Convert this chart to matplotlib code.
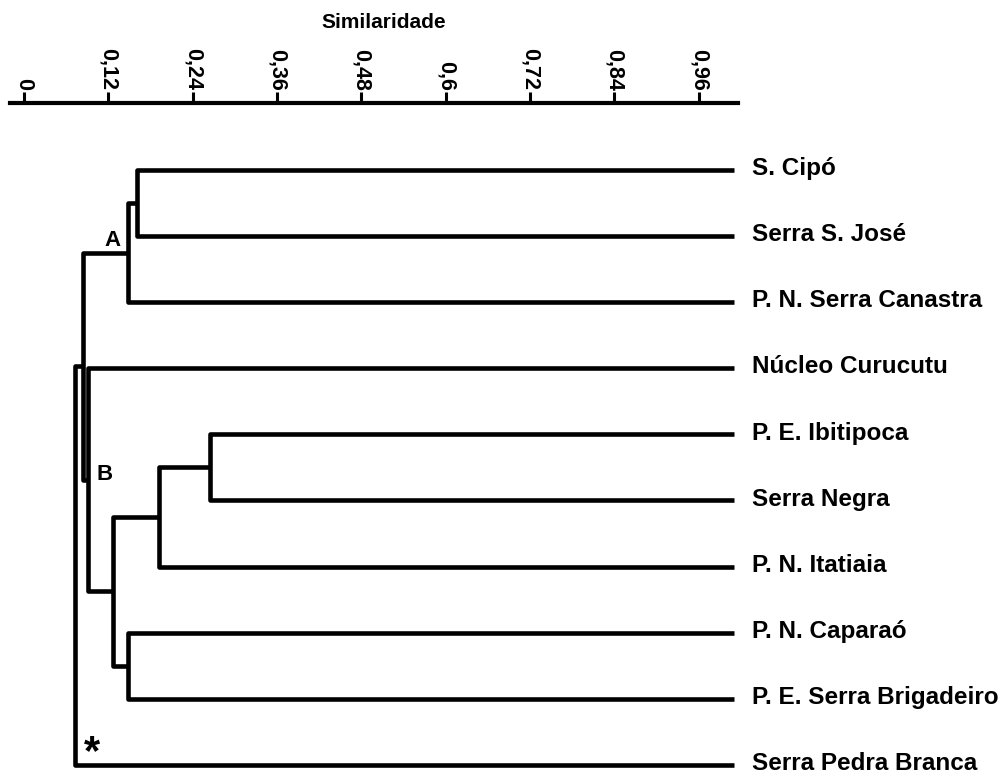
import matplotlib
matplotlib.use("Agg")
import matplotlib.pyplot as plt

plt.rcParams['font.family'] = ['Liberation Sans', 'DejaVu Sans']

# === Data ===
leaves = ["S. Cipó", "Serra S. José", "P. N. Serra Canastra", "Núcleo Curucutu",
          "P. E. Ibitipoca", "Serra Negra", "P. N. Itatiaia", "P. N. Caparaó",
          "P. E. Serra Brigadeiro", "Serra Pedra Branca"]
# merges: (child a, child b, similarity) -> new cluster id = len(leaves) + row
merge_a = [0, 10, 4, 12, 7, 13, 3, 11, 17]
merge_b = [1, 2, 5, 6, 8, 14, 15, 16, 9]
merge_sim = [0.161, 0.1475, 0.2646, 0.192, 0.148, 0.127, 0.0915, 0.0835, 0.0725]
leaf_sim = 1.01
ticks = [0, 0.12, 0.24, 0.36, 0.48, 0.6, 0.72, 0.84, 0.96]
tick_labels = ["0", "0,12", "0,24", "0,36", "0,48", "0,6", "0,72", "0,84", "0,96"]

# === Figure ===
fig = plt.figure(figsize=(10.01, 7.74), dpi=100)
ax = fig.add_axes([10 / 1001, 0, 728 / 1001, 671 / 774])
ax.set_xlim(-0.0199, 1.0157)
ax.set_ylim(9.138, -1.014)

# node positions
xs = {i: leaf_sim for i in range(len(leaves))}
ys = {i: float(i) for i in range(len(leaves))}
lw = 3.3
for k, (a, b, s) in enumerate(zip(merge_a, merge_b, merge_sim)):
    nid = len(leaves) + k
    ax.plot([xs[a], s, s, xs[b]], [ys[a], ys[a], ys[b], ys[b]], color="black",
            lw=lw, solid_joinstyle="round", solid_capstyle="butt", clip_on=False)
    xs[nid] = s
    ys[nid] = (ys[a] + ys[b]) / 2

# leaf labels
for i, name in enumerate(leaves):
    ax.text(1.0356, i - 0.02, name, fontsize=17.5, fontweight="bold", va="center",
            ha="left", clip_on=False)

# cluster marks
ax.text(0.1266, 1.06, "A", fontsize=16, fontweight="bold", ha="center", va="center")
ax.text(0.114, 4.61, "B", fontsize=16, fontweight="bold", ha="center", va="center")
ax.text(0.097, 8.82, "*", fontsize=30, fontweight="bold", ha="center", va="center")

# === Axis ===
for side in ["right", "bottom", "left"]:
    ax.spines[side].set_visible(False)
ax.spines["top"].set_linewidth(3)
ax.xaxis.tick_top()
ax.set_xticks(ticks)
ax.set_xticklabels(tick_labels, rotation=270, fontweight="bold", fontsize=15.5)
ax.tick_params(axis="x", direction="out", length=8, width=2.2, pad=1)
ax.set_yticks([])
fig.text(384 / 1001, 1 - 22 / 774, "Similaridade", fontweight="bold", fontsize=15,
         ha="center", va="center")

fig.savefig("out.png", dpi=100)
